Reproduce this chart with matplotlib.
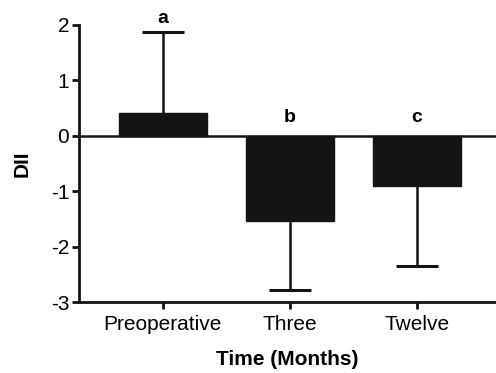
import matplotlib.pyplot as plt

plt.rcParams['font.family'] = ['Liberation Sans', 'DejaVu Sans']
plt.rcParams['axes.unicode_minus'] = False

categories = ['Preoperative', 'Three', 'Twelve']
means = [0.41, -1.54, -0.91]
errors = [1.46, 1.24, 1.44]
letters = ['a', 'b', 'c']
letter_y = [1.97, 0.18, 0.18]

fig = plt.figure(figsize=(4.96, 3.73), dpi=100)
ax = fig.add_axes([0.159, 0.190, 0.841, 0.743])

x = list(range(len(categories)))
ax.bar(x, means, width=0.69, color='#141414', edgecolor='#141414', zorder=2)

# one-sided error bars, pointing away from zero
cap = 0.165
for xi, m, e in zip(x, means, errors):
    end = m + e if m >= 0 else m - e
    ax.vlines(xi, m, end, color='#141414', linewidth=1.8, zorder=3)
    ax.hlines(end, xi - cap, xi + cap, color='#141414', linewidth=2.2, zorder=3)

for xi, lab, ly in zip(x, letters, letter_y):
    ax.text(xi, ly, lab, ha='center', va='bottom', fontsize=14, fontweight='bold')

ax.axhline(0, color='#141414', linewidth=1.8, zorder=4)

ax.set_xlim(-0.66, 2.62)
ax.set_ylim(-3, 2)
ax.set_yticks([-3, -2, -1, 0, 1, 2])
ax.set_xticks(x)
ax.set_xticklabels(categories)

for s in ['top', 'right']:
    ax.spines[s].set_visible(False)
for s in ['left', 'bottom']:
    ax.spines[s].set_linewidth(2)
    ax.spines[s].set_color('#141414')

ax.tick_params(axis='both', labelsize=15, width=2, length=5, color='#141414')
ax.tick_params(axis='y', pad=2)
ax.tick_params(axis='x', pad=4)

ax.set_xlabel('Time (Months)', fontsize=15, fontweight='bold', labelpad=12)
ax.set_ylabel('DII', fontsize=15, fontweight='bold', labelpad=14)

fig.savefig('out.png', dpi=100)
